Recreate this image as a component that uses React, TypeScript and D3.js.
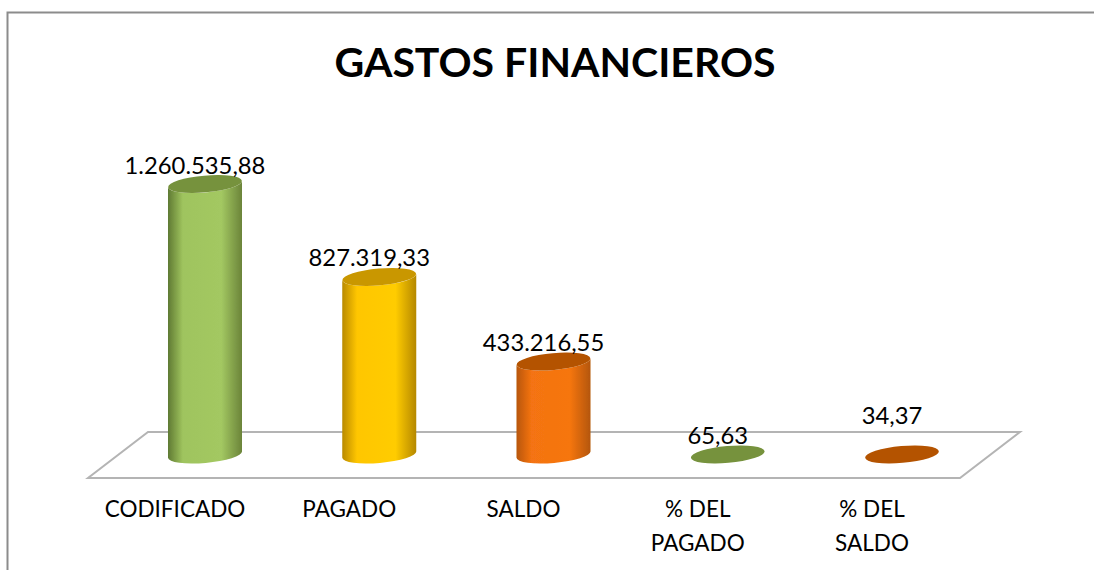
import React from "react";
import * as d3 from "d3";

const categories = ["CODIFICADO", "PAGADO", "SALDO", "% DEL PAGADO", "% DEL SALDO"];
const values = [1260535.88, 827319.33, 433216.55, 65.63, 34.37];
const sideColors = [
  ["#5f7a33", "#9fc45e", "#a3c862", "#6b8439"],
  ["#b98a00", "#ffc600", "#ffcc00", "#b58800"],
  ["#b85606", "#f47312", "#f6760f", "#b45608"],
  ["#5f7a33", "#9fc45e", "#a3c862", "#6b8439"],
  ["#b85606", "#f47312", "#f6760f", "#b45608"],
];
const capColors = ["#76923c", "#c99700", "#b45305", "#76923c", "#b45305"];
const axisLines = [["CODIFICADO"], ["PAGADO"], ["SALDO"], ["% DEL", "PAGADO"], ["% DEL", "SALDO"]];

const W = 1094;
const H = 570;
const FONT = "Lato, Carlito, sans-serif";
const RX = 37;
const RY = 8.4;
const TILT = -5;
const dyTilt = Math.sin((Math.abs(TILT) * Math.PI) / 180) * RX;

const fmt = d3.formatLocale({ decimal: ",", thousands: ".", grouping: [3], currency: ["", ""] }).format(",.2f");

const x = d3.scalePoint<string>().domain(categories).range([205, 902]);
const y = d3.scaleLinear().domain([0, 1260535.88]).range([454.5, 184]);

// Floor plane of the 3D chart
const floor = d3.line()([
  [148, 432],
  [1020, 432],
  [960, 478],
  [88, 478],
]) + "Z";

function body(cx: number, top: number, base: number) {
  const l = cx - RX;
  const r = cx + RX;
  return `M${l},${top + dyTilt}L${l},${base + dyTilt}A${RX},${RY} ${TILT} 0 0 ${r},${base - dyTilt}L${r},${top - dyTilt}A${RX},${RY} ${TILT} 0 1 ${l},${top + dyTilt}Z`;
}

export default function App() {
  return (
    <svg width={W} height={H} style={{ position: "absolute", left: 0, top: 0, background: "#fff" }} fontFamily={FONT}>
      <defs>
        {sideColors.map((c, i) => (
          <linearGradient id={`g${i}`} key={i} x1="0" x2="1" y1="0" y2="0">
            <stop offset="0" stopColor={c[0]} />
            <stop offset="0.2" stopColor={c[1]} />
            <stop offset="0.72" stopColor={c[2]} />
            <stop offset="1" stopColor={c[3]} />
          </linearGradient>
        ))}
        <filter id="soft" x="-5%" y="-5%" width="110%" height="110%">
          <feGaussianBlur stdDeviation="0.5" />
        </filter>
      </defs>
      <path d={`M7.5,${H}V12.5H${W}`} fill="none" stroke="#8c8c8c" strokeWidth={2} />
      <text x={555} y={77} textAnchor="middle" fontSize={41} fontWeight={700} fill="#000">
        GASTOS FINANCIEROS
      </text>
      <path d={floor!} fill="#fff" stroke="#b4b4b4" strokeWidth={2} />
      {categories.map((c, i) => {
        const cx = x(c)!;
        const top = y(values[i]);
        const base = y(0);
        return (
          <g key={c} filter="url(#soft)">
            <path d={body(cx, top, base)} fill={`url(#g${i})`} />
            <ellipse cx={cx} cy={top} rx={RX} ry={RY} transform={`rotate(${TILT} ${cx} ${top})`} fill={capColors[i]} />
          </g>
        );
      })}
      {categories.map((c, i) => {
        const cx = x(c)!;
        const top = y(values[i]);
        const lift = i === 4 ? 30 : 10.5;
        return (
          <text key={c} x={cx - 10} y={top - lift} textAnchor="middle" fontSize={23.8} fill="#000">
            {fmt(values[i])}
          </text>
        );
      })}
      {categories.map((c, i) => (
        <text key={c} textAnchor="middle" fontSize={22.5} fill="#000">
          {axisLines[i].map((line, k) => (
            <tspan key={k} x={x(c)! - 30} y={517 + k * 34}>
              {line}
            </tspan>
          ))}
        </text>
      ))}
    </svg>
  );
}
